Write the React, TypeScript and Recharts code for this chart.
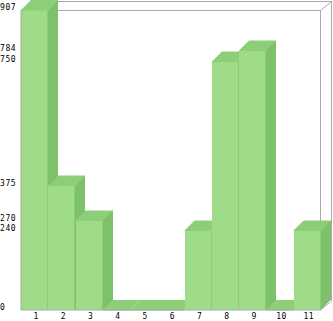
import React from 'react';
import { BarChart, Bar, XAxis, YAxis } from 'recharts';

const categories = ['1', '2', '3', '4', '5', '6', '7', '8', '9', '10', '11'];
const values = [907, 375, 270, 0, 0, 0, 240, 750, 784, 0, 240];
const yTicks = [0, 240, 270, 375, 750, 784, 907];

const data = categories.map((c, i) => ({ name: c, v: values[i] }));

const W = 333;
const H = 321;
const M = { top: 10, right: 12, left: 0, bottom: 0 };
const Y_W = 21;
const X_H = 11;
const DEPTH = 10;
const FRAME_DX = 11;
const FRAME_DY = 9;

const FRONT = '#9fdc8a';
const SIDE = '#7ec16b';
const TOP = '#8dcf78';
const EDGE = '#8ccb77';
const GRID = '#aaaaaa';
const FONT = '"DejaVu Sans Mono", monospace';

const Bar3D = (props: any) => {
  const { x, y, width, height } = props;
  const d = DEPTH;
  const w = width;
  const h = height;
  return (
    <g shapeRendering="crispEdges">
      <rect x={x} y={y} width={w} height={h} fill={FRONT} />
      <line x1={x + w - 0.5} y1={y} x2={x + w - 0.5} y2={y + h} stroke={EDGE} strokeWidth={1} />
      <polygon points={`${x},${y} ${x + w},${y} ${x + w + d},${y - d} ${x + d},${y - d}`} fill={TOP} stroke={TOP} strokeWidth={0.5} />
      <polygon points={`${x + w},${y} ${x + w + d},${y - d} ${x + w + d},${y + h - d} ${x + w},${y + h}`} fill={SIDE} />
    </g>
  );
};

const YTick = (props: any) => {
  const { y, payload } = props;
  return (
    <text x={0} y={y} fontSize={8} fontFamily={FONT} fill="#000" textAnchor="start" letterSpacing={0.6}>
      {payload.value}
    </text>
  );
};

const XTick = (props: any) => {
  const { x, y, payload } = props;
  return (
    <text x={x + 1.5} y={y + 9} fontSize={8} fontFamily={FONT} fill="#000" textAnchor="middle" letterSpacing={0.6}>
      {payload.value}
    </text>
  );
};

const Frame = () => {
  const l = M.left + Y_W;
  const r = W - M.right;
  const t = M.top;
  const b = H - M.bottom - X_H;
  const dx = FRAME_DX;
  const dy = FRAME_DY;
  return (
    <svg width={W} height={H} style={{ position: 'absolute', left: 0, top: 0 }}>
      <g stroke={GRID} strokeWidth={1} fill="none" shapeRendering="crispEdges">
        <line x1={l} y1={t + 0.5} x2={r} y2={t + 0.5} />
        <line x1={r - 0.5} y1={t} x2={r - 0.5} y2={b} />
        <line x1={l + dx} y1={t - dy + 0.5} x2={r + dx} y2={t - dy + 0.5} />
        <line x1={r + dx - 0.5} y1={t - dy} x2={r + dx - 0.5} y2={b - dy} />
      </g>
      <g stroke={GRID} strokeWidth={1} fill="none">
        <line x1={r - 0.5} y1={t + 0.5} x2={r + dx - 0.5} y2={t - dy + 0.5} />
        <line x1={r - 0.5} y1={b} x2={r + dx - 0.5} y2={b - dy} />
        <line x1={l} y1={t + 0.5} x2={l + dx} y2={t - dy + 0.5} />
      </g>
    </svg>
  );
};

export default function App() {
  return (
    <div style={{ position: 'absolute', left: 0, top: 0, width: W, height: H, background: '#fff' }}>
      <Frame />
      <div style={{ position: 'absolute', left: 0, top: 0 }}>
        <BarChart width={W} height={H} data={data} margin={M} barCategoryGap={0} barGap={0}>
          <Bar dataKey="v" shape={Bar3D} isAnimationActive={false} />
          <XAxis
            dataKey="name"
            height={X_H}
            tickLine={false}
            tickSize={0}
            tickMargin={0}
            axisLine={{ stroke: GRID }}
            tick={XTick}
            interval={0}
          />
          <YAxis
            width={Y_W}
            domain={[0, 907]}
            ticks={yTicks}
            interval={0}
            tickLine={false}
            axisLine={{ stroke: GRID }}
            tick={YTick}
          />
        </BarChart>
      </div>
    </div>
  );
}
